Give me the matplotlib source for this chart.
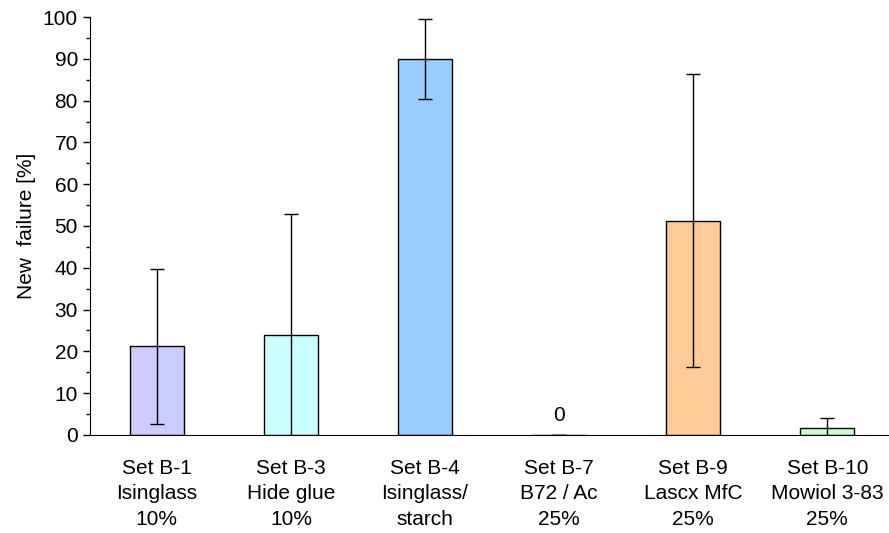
import numpy as np
import matplotlib
matplotlib.use("Agg")
import matplotlib.pyplot as plt
from matplotlib.ticker import MultipleLocator

plt.rcParams["font.family"] = ["Liberation Sans", "DejaVu Sans"]

labels = ["Set B-1\nIsinglass\n10%", "Set B-3\nHide glue\n10%", "Set B-4\nIsinglass/\nstarch",
          "Set B-7\nB72 / Ac\n25%", "Set B-9\nLascx MfC\n25%", "Set B-10\nMowiol 3-83\n25%"]
values = [21.2, 23.9, 90.0, 0.0, 51.3, 1.7]
errors = [18.5, 29.0, 9.5, 0.0, 35.0, 2.4]
colors = ["#CCCCFF", "#CCFFFF", "#99CCFF", "#FFFFFF", "#FFCC99", "#CCFFCC"]

fig = plt.figure(figsize=(8.89, 5.33), dpi=100)
ax = fig.add_axes([0.101, 0.184, 0.905, 0.784])

x = np.arange(len(labels))
ax.bar(x, values, width=0.4, color=colors, edgecolor="black", linewidth=1,
       yerr=errors, capsize=5, error_kw={"elinewidth": 1, "capthick": 1, "ecolor": "black"})

# zero-value label
ax.annotate("0", (x[3], values[3]), xytext=(0, 7), textcoords="offset points",
            ha="center", va="bottom", fontsize=15)

ax.set_xlim(-0.5, 5.5)
ax.set_ylim(0, 100)
ax.yaxis.set_major_locator(MultipleLocator(10))
ax.yaxis.set_minor_locator(MultipleLocator(5))
ax.tick_params(axis="y", which="major", length=5, width=1, labelsize=15, direction="out")
ax.tick_params(axis="y", which="minor", length=3, width=1, direction="out")
ax.set_xticks(x)
ax.set_xticklabels(labels, fontsize=15, linespacing=1.46)
ax.tick_params(axis="x", length=0, pad=17)

ax.spines["top"].set_visible(False)
ax.spines["right"].set_visible(False)
ax.set_ylabel("New  failure [%]", fontsize=15, labelpad=5)

fig.savefig("out.png", dpi=100)
